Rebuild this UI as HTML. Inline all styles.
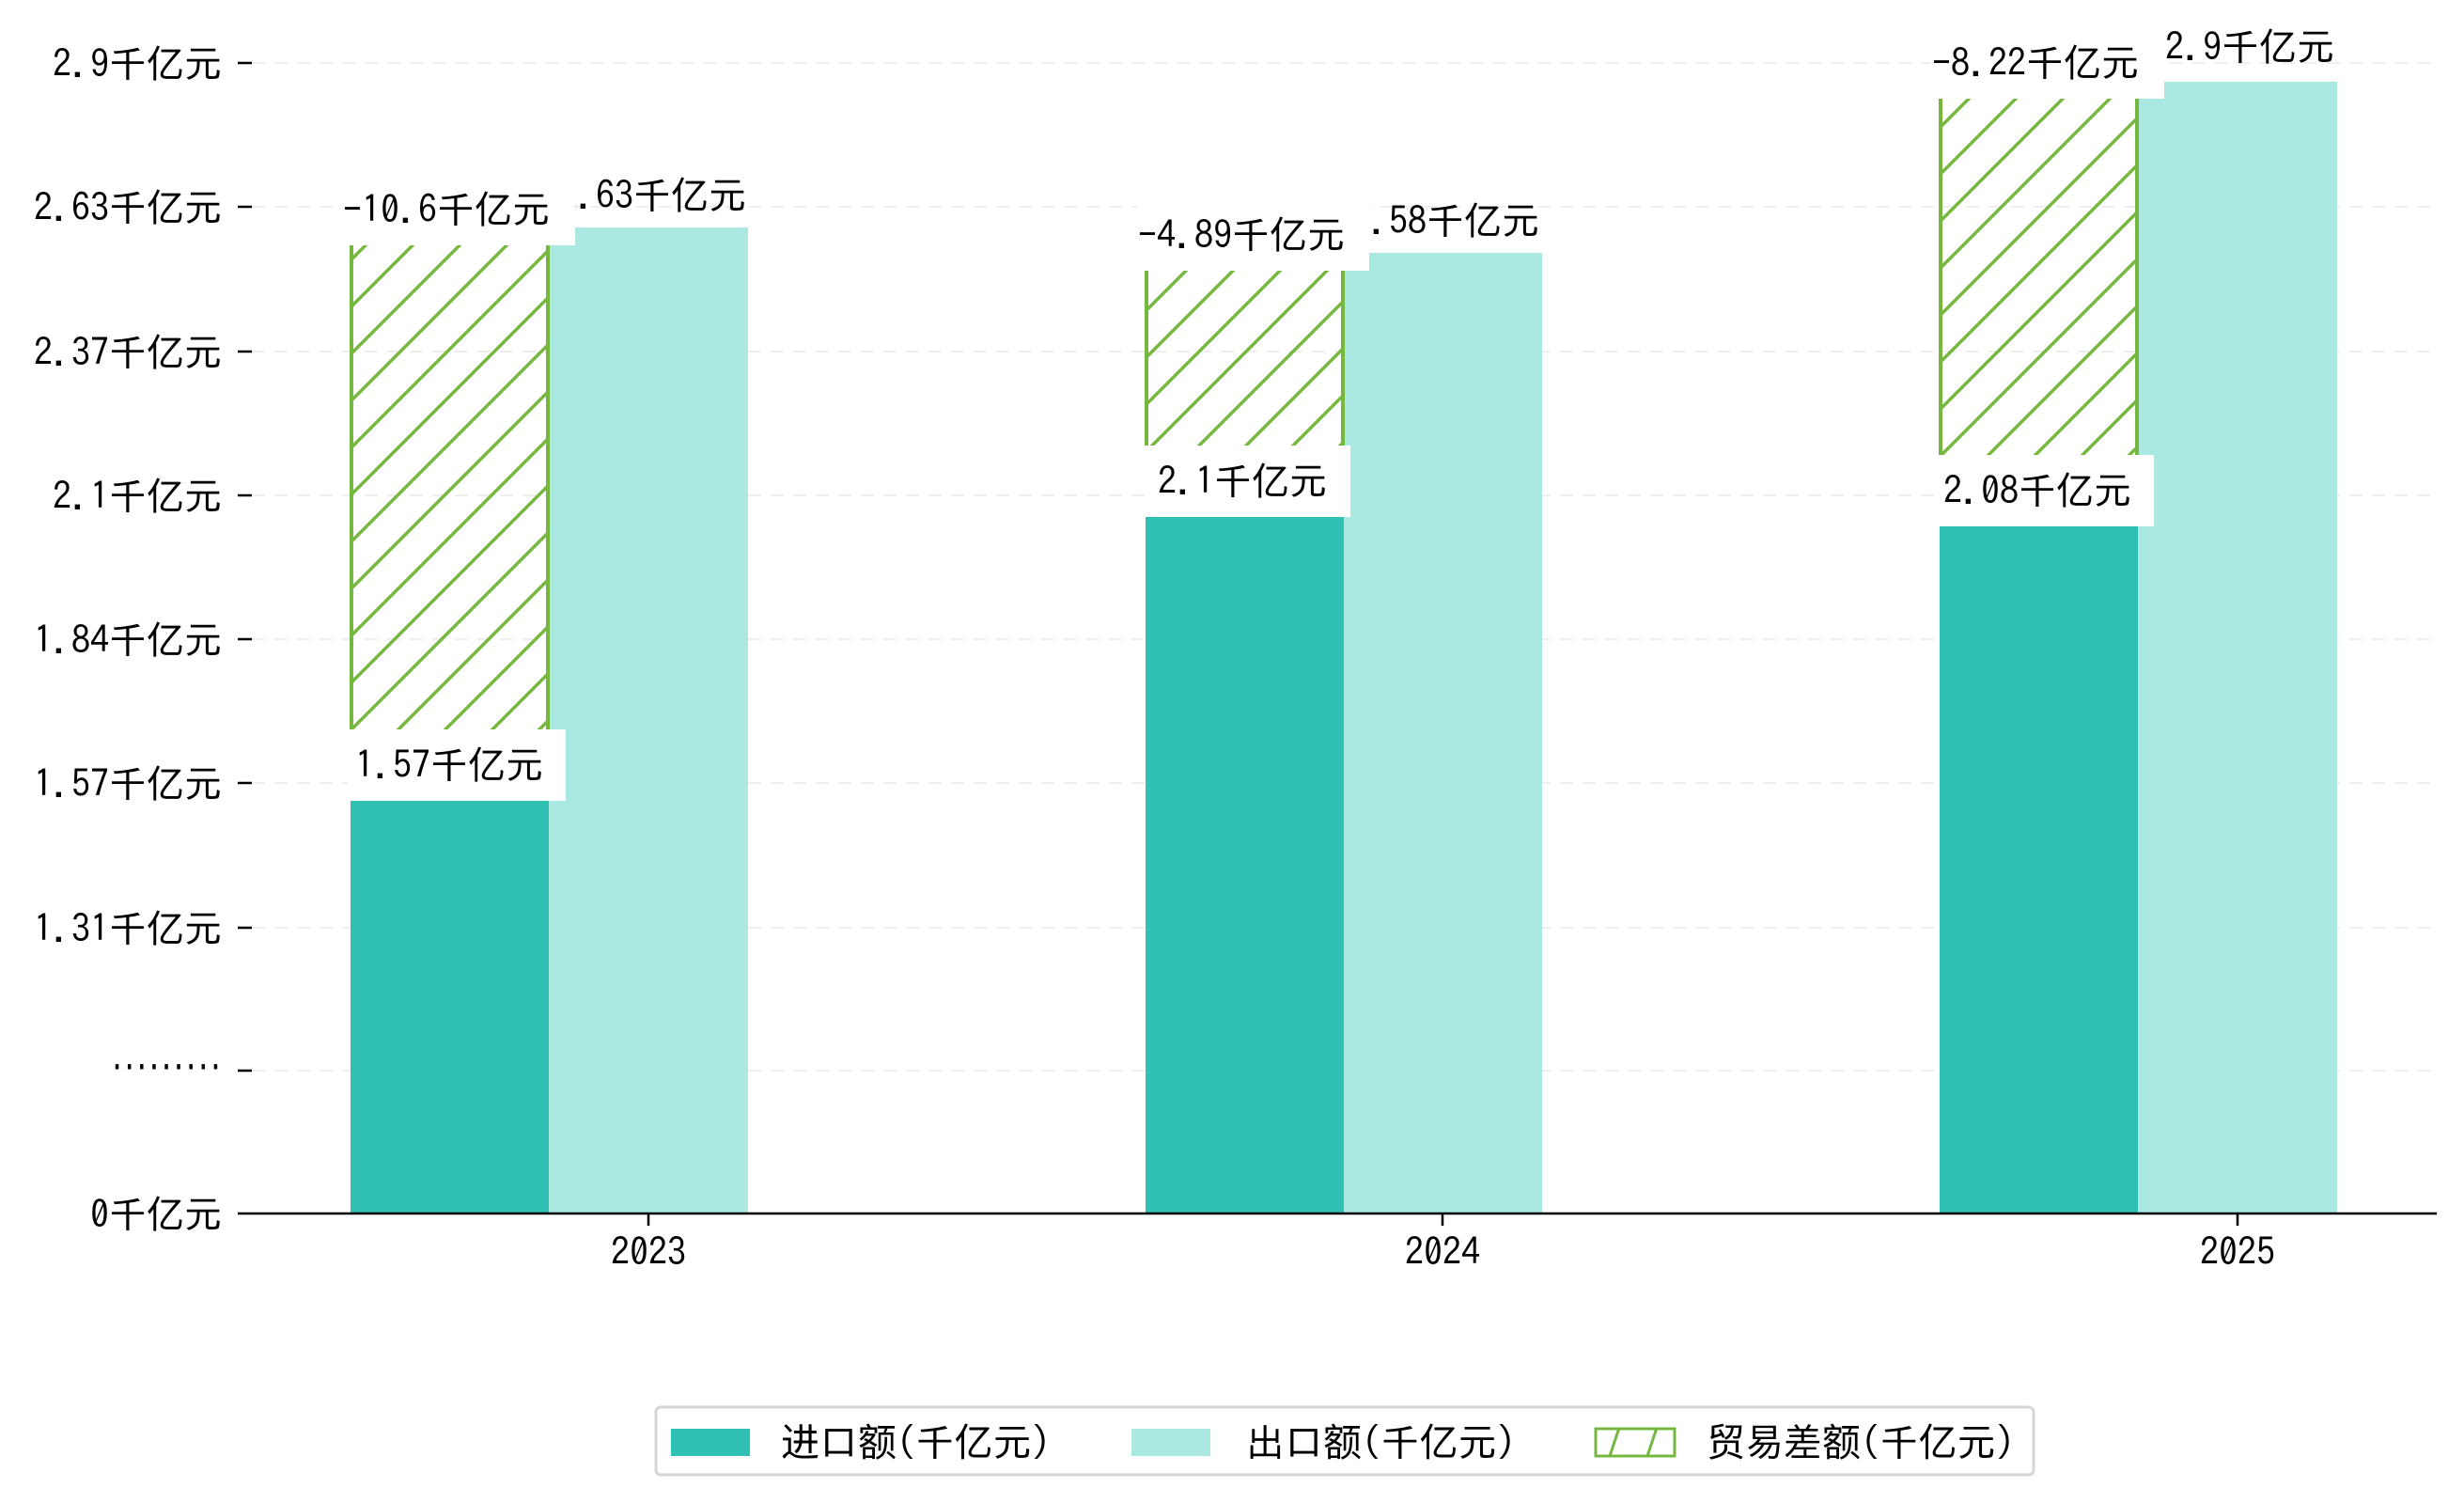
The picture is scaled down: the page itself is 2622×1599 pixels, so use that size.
<!DOCTYPE html>
<html><head><meta charset="utf-8"><style>
html,body{margin:0;padding:0;background:#fff;}
svg{display:block;}
text{font-family:"IPAGothic","WenQuanYi Zen Hei","Noto Sans CJK SC",sans-serif;fill:#000;}
.yl{font-size:40px;text-anchor:end;}
.vl{font-size:40px;}
.xl{font-family:"IPAGothic","DejaVu Sans",sans-serif;font-size:40px;text-anchor:middle;}
.lg{font-size:41px;}
</style></head><body>
<svg width="2622" height="1599" viewBox="0 0 2622 1599" xmlns="http://www.w3.org/2000/svg">
<defs>
<pattern id="h" patternUnits="userSpaceOnUse" width="50" height="50">
<path d="M-5,55 L55,-5 M-30,30 L30,-30 M20,80 L80,20" stroke="#76b83f" stroke-width="3.5"/>
</pattern>
<pattern id="h2" patternUnits="userSpaceOnUse" width="40" height="40" x="1700">
<path d="M8,44 L24,-4 M36,44 L52,-4" stroke="#76b83f" stroke-width="3"/>
</pattern>
</defs>
<rect width="2622" height="1599" fill="#fff"/>
<g stroke="#eeeeee" stroke-width="2" stroke-dasharray="14,10">
<line x1="268" y1="67" x2="2593" y2="67"/>
<line x1="268" y1="220" x2="2593" y2="220"/>
<line x1="268" y1="374" x2="2593" y2="374"/>
<line x1="268" y1="527" x2="2593" y2="527"/>
<line x1="268" y1="680" x2="2593" y2="680"/>
<line x1="268" y1="833" x2="2593" y2="833"/>
<line x1="268" y1="987" x2="2593" y2="987"/>
<line x1="268" y1="1139" x2="2593" y2="1139"/>
</g>
<g stroke="#000" stroke-width="2.5">
<line x1="253" y1="67" x2="268" y2="67"/>
<line x1="253" y1="220" x2="268" y2="220"/>
<line x1="253" y1="374" x2="268" y2="374"/>
<line x1="253" y1="527" x2="268" y2="527"/>
<line x1="253" y1="680" x2="268" y2="680"/>
<line x1="253" y1="833" x2="268" y2="833"/>
<line x1="253" y1="987" x2="268" y2="987"/>
<line x1="253" y1="1139" x2="268" y2="1139"/>
<line x1="690" y1="1291" x2="690" y2="1304"/>
<line x1="1535" y1="1291" x2="1535" y2="1304"/>
<line x1="2381" y1="1291" x2="2381" y2="1304"/>
</g>
<g class="yl">
<text x="236" y="82">2.9千亿元</text>
<text x="236" y="235">2.63千亿元</text>
<text x="236" y="389">2.37千亿元</text>
<text x="236" y="542">2.1千亿元</text>
<text x="236" y="695">1.84千亿元</text>
<text x="236" y="848">1.57千亿元</text>
<text x="236" y="1002">1.31千亿元</text>
<text x="236" y="1150" textLength="118" lengthAdjust="spacingAndGlyphs">·········</text>
<text x="236" y="1306">0千亿元</text>
</g>
<rect x="373" y="852" width="211" height="439" fill="#31c1b4"/>
<rect x="584" y="242" width="212" height="1049" fill="#aae8e2"/>
<rect x="373" y="230" width="211" height="622" fill="url(#h)"/>
<line x1="374" y1="230" x2="374" y2="852" stroke="#76b83f" stroke-width="4"/>
<line x1="583" y1="230" x2="583" y2="852" stroke="#76b83f" stroke-width="4"/>
<rect x="1219" y="550" width="211" height="741" fill="#31c1b4"/>
<rect x="1430" y="269" width="211" height="1022" fill="#aae8e2"/>
<rect x="1219" y="250" width="211" height="300" fill="url(#h)"/>
<line x1="1220" y1="250" x2="1220" y2="550" stroke="#76b83f" stroke-width="4"/>
<line x1="1429" y1="250" x2="1429" y2="550" stroke="#76b83f" stroke-width="4"/>
<rect x="2064" y="560" width="211" height="731" fill="#31c1b4"/>
<rect x="2275" y="87" width="212" height="1204" fill="#aae8e2"/>
<rect x="2064" y="70" width="211" height="490" fill="url(#h)"/>
<line x1="2065" y1="70" x2="2065" y2="560" stroke="#76b83f" stroke-width="4"/>
<line x1="2274" y1="70" x2="2274" y2="560" stroke="#76b83f" stroke-width="4"/>
<g class="vl" text-anchor="end">
<text x="794" y="222">2.63千亿元</text>
<text x="1638" y="249">2.58千亿元</text>
<text x="2484" y="64">2.9千亿元</text>
</g>
<g fill="#fff">
<rect x="362" y="185" width="250" height="76"/>
<rect x="370" y="776" width="232" height="76"/>
<rect x="1210" y="212" width="247" height="76"/>
<rect x="1218" y="474" width="219" height="76"/>
<rect x="2054" y="29" width="249" height="76"/>
<rect x="2062" y="484" width="230" height="76"/>
</g>
<g class="vl">
<text x="365" y="237">-10.6千亿元</text>
<text x="378" y="828">1.57千亿元</text>
<text x="1211" y="264">-4.89千亿元</text>
<text x="1232" y="526">2.1千亿元</text>
<text x="2056" y="81">-8.22千亿元</text>
<text x="2068" y="536">2.08千亿元</text>
</g>
<line x1="253" y1="1291" x2="2593" y2="1291" stroke="#000" stroke-width="2.5"/>
<g class="xl">
<text x="690" y="1346">2023</text>
<text x="1535" y="1346">2024</text>
<text x="2381" y="1346">2025</text>
</g>
<rect x="698" y="1497" width="1466" height="72" rx="5" fill="#fff" stroke="#d6d6d6" stroke-width="3"/>
<rect x="714" y="1520" width="84" height="29" fill="#31c1b4"/>
<text class="lg" x="831" y="1549">进口额(千亿元)</text>
<rect x="1204" y="1520" width="84" height="29" fill="#aae8e2"/>
<text class="lg" x="1326" y="1549">出口额(千亿元)</text>
<rect x="1698" y="1520" width="84" height="29" fill="url(#h2)" stroke="#76b83f" stroke-width="3"/>
<text class="lg" x="1816" y="1549">贸易差额(千亿元)</text>
</svg>
</body></html>
